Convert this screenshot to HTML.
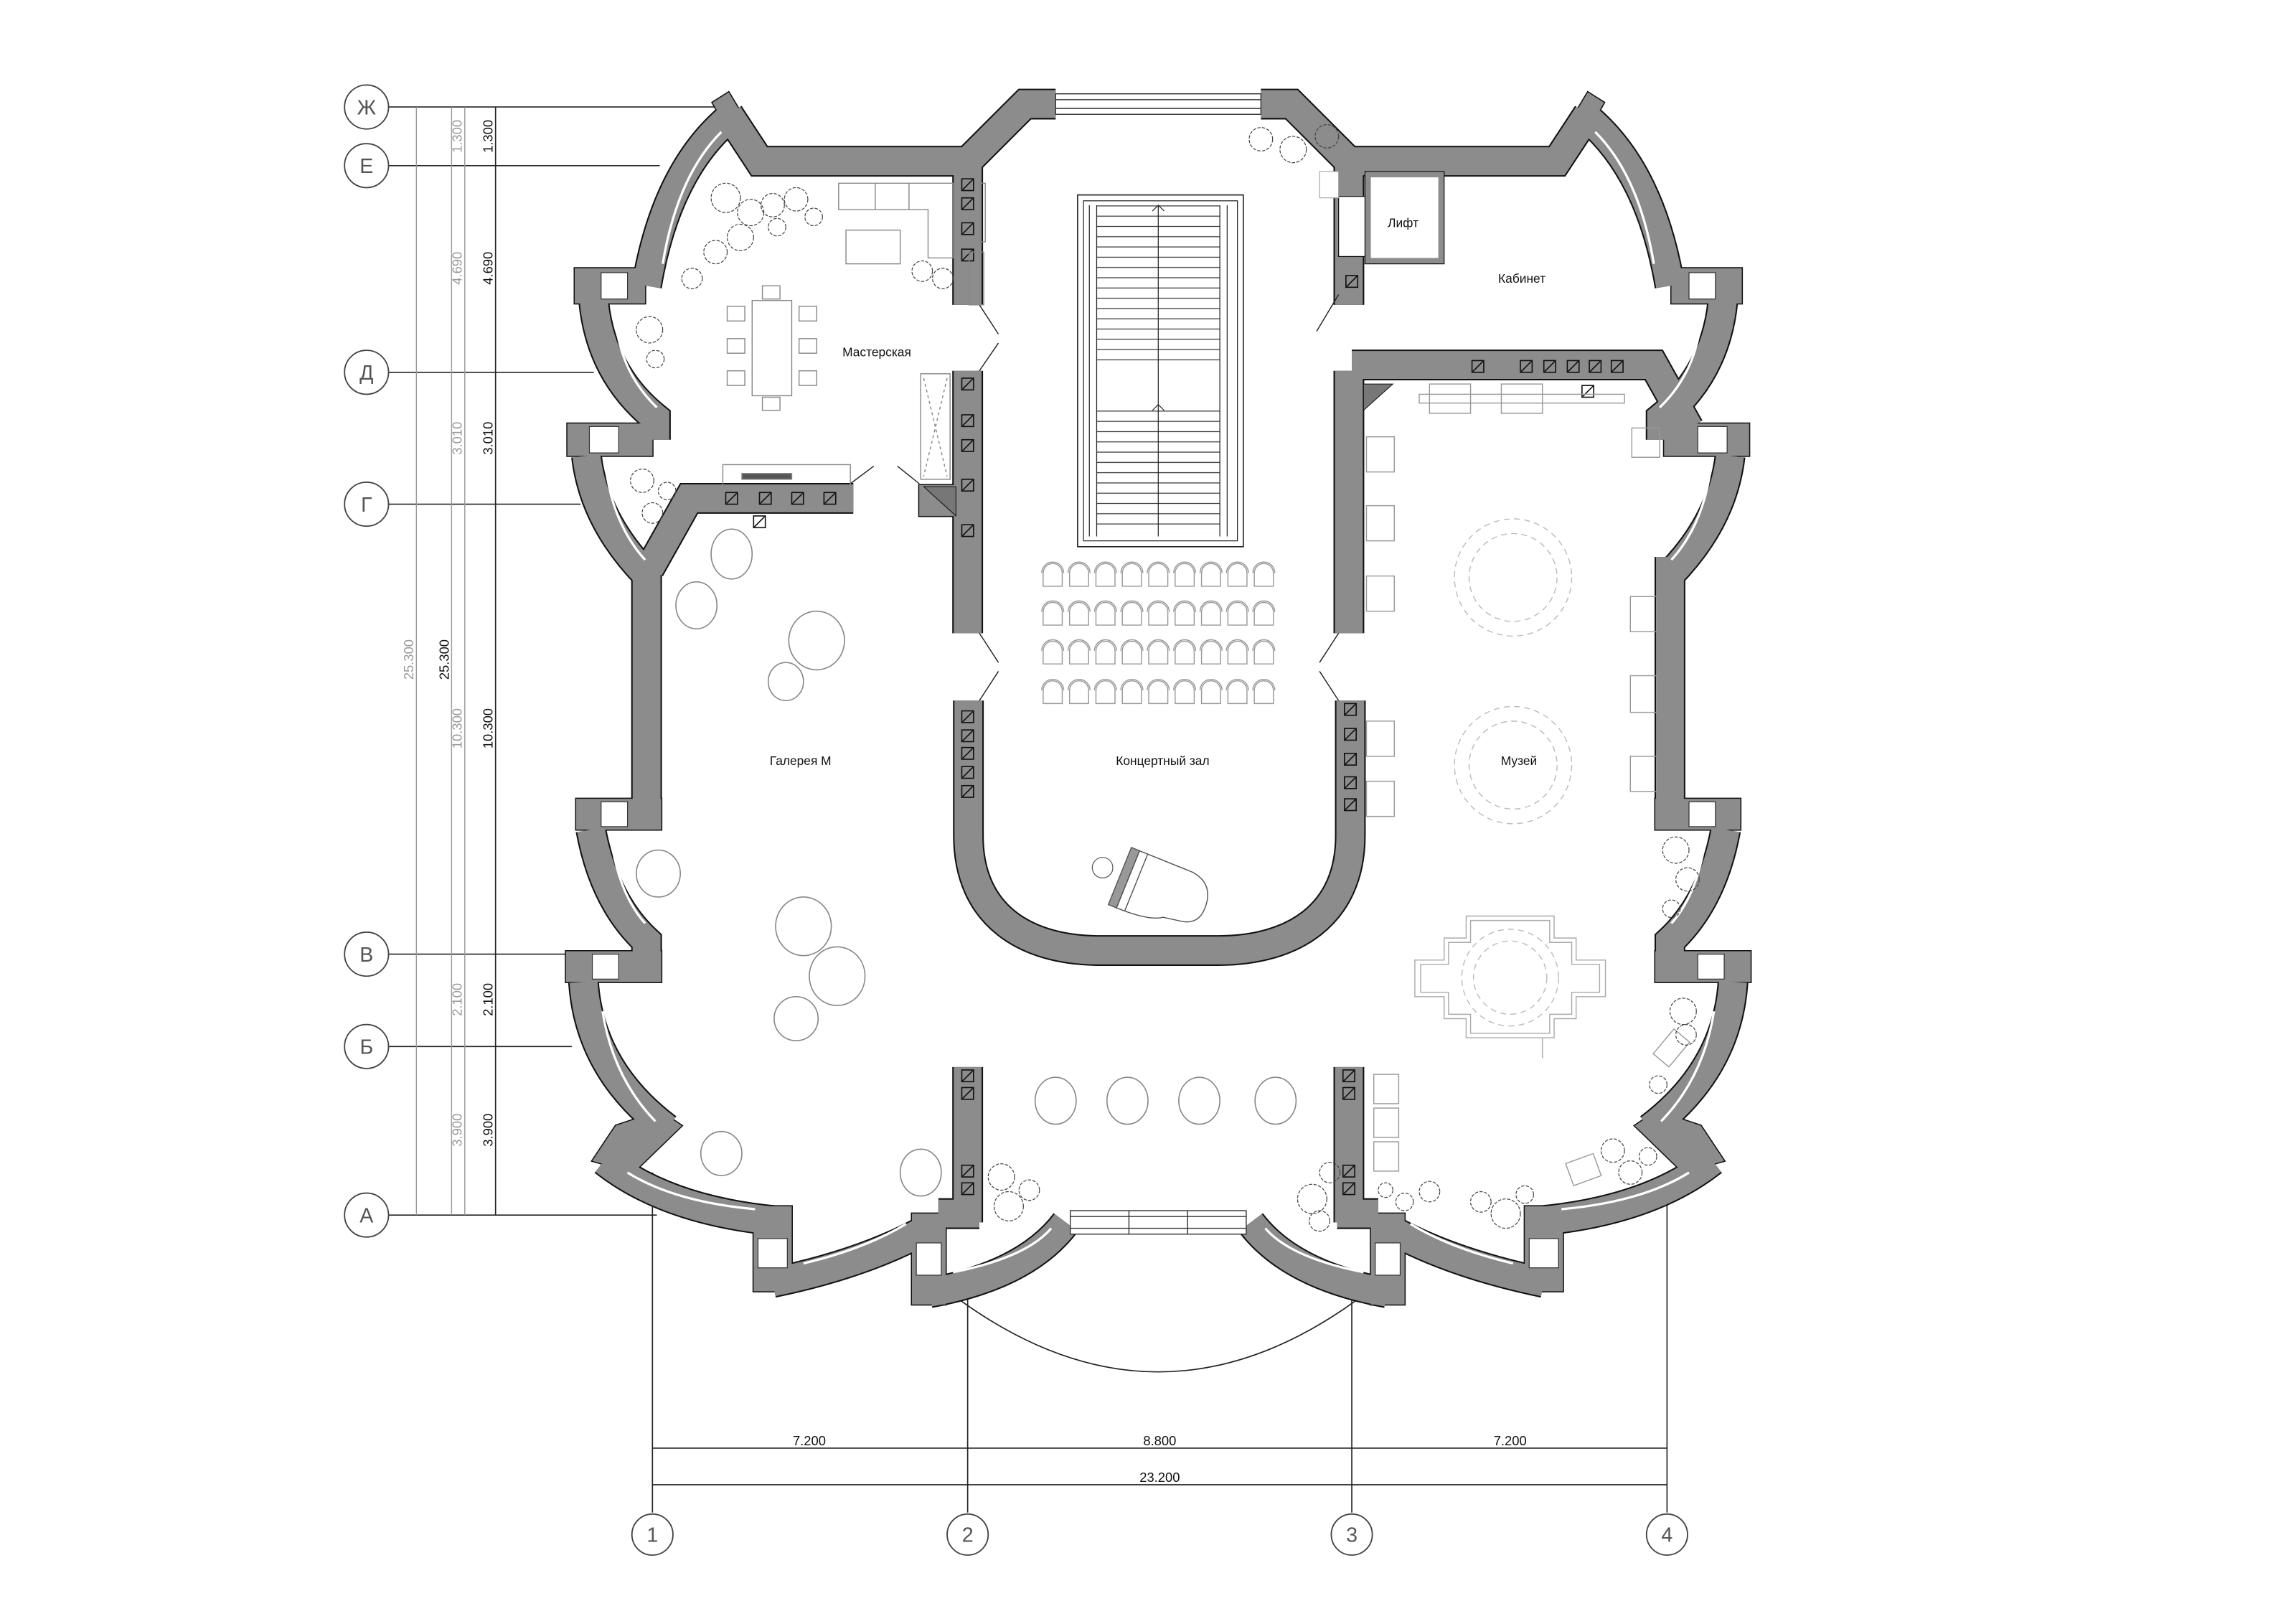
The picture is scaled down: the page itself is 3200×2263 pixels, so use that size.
<!DOCTYPE html>
<html><head><meta charset="utf-8"><style>
html,body{margin:0;padding:0;background:#fff;}
svg{display:block;}
text{font-family:"Liberation Sans","DejaVu Sans",sans-serif;}
</style></head><body>
<svg width="3200" height="2263" viewBox="0 0 1566 1108" preserveAspectRatio="none" xmlns="http://www.w3.org/2000/svg">
<defs>
<pattern id="st" width="10" height="7" patternUnits="userSpaceOnUse"><line x1="0" y1="0.5" x2="10" y2="0.5" stroke="#333" stroke-width="0.6"/></pattern>
<g id="WL" fill="none">
 <path d="M497,78 L518,110 L660,110 L699,71 L720,71"/>
 <path d="M503,76 Q455,112 441,195"/>
 <path d="M405,206 Q410,255 447,285 L447,300"/>
 <path d="M400,311 Q405,355 441,392"/>
 <path d="M441,380 L441,562"/>
 <path d="M403,566 Q412,615 441,642 L441,668"/>
 <path d="M398,670 Q402,730 455,770"/>
 <path d="M412,792 Q455,826 530,833"/>
 <path d="M527,875 Q590,862 633,838"/>
 <path d="M634,882 Q700,870 727,834"/>
 <path d="M660,728 L660,834"/>
 <path d="M640,828 L668,828"/>
 <path d="M660,110 L660,208"/>
 <path d="M660,253 L660,432"/>
</g>
<g id="W" fill="none">
 <use href="#WL"/>
 <use href="#WL" transform="matrix(-1 0 0 1 1580 0)"/>
 <path d="M660.5,478 L660.5,570 C660.5,625 700,648.5 750,648.5 L831,648.5 C881,648.5 921,625 921,570 L921,478"/>
 <path d="M582,340 L470,340 L443,388"/>
 <path d="M922,249 L1128,249 L1152,292"/>
</g>
<g id="PL">
 <polygon points="486,70 497,63 512,88 500,95"/>
 <rect x="392" y="183" width="48" height="24"/>
 <rect x="387" y="289" width="58" height="22"/>
 <rect x="393" y="545" width="58" height="21"/>
 <rect x="386" y="649" width="65" height="21"/>
 <polygon points="420,768 450,758 465,768 432,800 404,792"/>
 <rect x="514" y="823" width="26" height="58"/>
 <rect x="622" y="828" width="23" height="62"/>
</g>
<g id="P">
 <use href="#PL"/>
 <use href="#PL" transform="matrix(-1 0 0 1 1580 0)"/>
 <rect x="627" y="331" width="41" height="21"/>
</g>
<g id="hb"><rect x="0" y="0" width="8" height="8" fill="none" stroke="#111" stroke-width="0.8"/><line x1="0.5" y1="7.5" x2="7.5" y2="0.5" stroke="#111" stroke-width="0.8"/></g>
<g id="seat" fill="none" stroke="#999" stroke-width="0.7"><path d="M-6.5,8 V-1 A6.5,6.5 0 0 1 6.5,-1 V8 Z"/><path d="M-7.5,-1 A7.5,7.5 0 0 1 7.5,-1"/></g>
<g id="row"><use href="#seat" x="718"/><use href="#seat" x="736"/><use href="#seat" x="754"/><use href="#seat" x="772"/><use href="#seat" x="790"/><use href="#seat" x="808"/><use href="#seat" x="826"/><use href="#seat" x="844"/><use href="#seat" x="862"/></g>
</defs>

<g stroke="#222" stroke-width="0.8" fill="none">
 <line x1="265" y1="73" x2="490" y2="73"/>
 <line x1="265" y1="113" x2="450" y2="113"/>
 <line x1="265" y1="254" x2="405" y2="254"/>
 <line x1="265" y1="344" x2="396" y2="344"/>
 <line x1="265" y1="651" x2="388" y2="651"/>
 <line x1="265" y1="714" x2="390" y2="714"/>
 <line x1="265" y1="829" x2="448" y2="829"/>
 <line x1="338" y1="73" x2="338" y2="829"/>
 <line x1="445" y1="800" x2="445" y2="1032"/>
 <line x1="660" y1="880" x2="660" y2="1032"/>
 <line x1="922" y1="880" x2="922" y2="1032"/>
 <line x1="1137" y1="800" x2="1137" y2="1032"/>
 <line x1="445" y1="988" x2="1137" y2="988"/>
 <line x1="445" y1="1013" x2="1137" y2="1013"/>
</g>
<g stroke="#999" stroke-width="0.7">
 <line x1="284" y1="73" x2="284" y2="829"/>
 <line x1="308" y1="73" x2="308" y2="829"/>
 <line x1="317" y1="73" x2="317" y2="829"/>
</g>
<g fill="#fff" stroke="#444" stroke-width="0.9">
 <circle cx="250" cy="73" r="15"/><circle cx="250" cy="113" r="15"/><circle cx="250" cy="254" r="15"/><circle cx="250" cy="344" r="15"/><circle cx="250" cy="651" r="15"/><circle cx="250" cy="714" r="15"/><circle cx="250" cy="829" r="15"/>
 <circle cx="445" cy="1047" r="14"/><circle cx="660" cy="1047" r="14"/><circle cx="922" cy="1047" r="14"/><circle cx="1137" cy="1047" r="14"/>
</g>
<g font-size="14" fill="#555" text-anchor="middle">
 <text x="250" y="78">Ж</text><text x="250" y="118">Е</text><text x="250" y="259">Д</text><text x="250" y="349">Г</text><text x="250" y="656">В</text><text x="250" y="719">Б</text><text x="250" y="834">А</text>
 <text x="445" y="1052">1</text><text x="660" y="1052">2</text><text x="922" y="1052">3</text><text x="1137" y="1052">4</text>
</g>
<g font-size="9" fill="#999" text-anchor="middle">
 <text transform="translate(282,450) rotate(-90)">25.300</text>
 <text transform="translate(315,93) rotate(-90)">1.300</text>
 <text transform="translate(315,183) rotate(-90)">4.690</text>
 <text transform="translate(315,299) rotate(-90)">3.010</text>
 <text transform="translate(315,497) rotate(-90)">10.300</text>
 <text transform="translate(315,682) rotate(-90)">2.100</text>
 <text transform="translate(315,771) rotate(-90)">3.900</text>
</g>
<g font-size="9" fill="#111" text-anchor="middle">
 <text transform="translate(306,450) rotate(-90)">25.300</text>
 <text transform="translate(336,93) rotate(-90)">1.300</text>
 <text transform="translate(336,183) rotate(-90)">4.690</text>
 <text transform="translate(336,299) rotate(-90)">3.010</text>
 <text transform="translate(336,497) rotate(-90)">10.300</text>
 <text transform="translate(336,682) rotate(-90)">2.100</text>
 <text transform="translate(336,771) rotate(-90)">3.900</text>
 <text x="552" y="986">7.200</text><text x="791" y="986">8.800</text><text x="1030" y="986">7.200</text><text x="791" y="1011">23.200</text>
</g>

<path d="M648,882 Q790,990 932,882" fill="none" stroke="#222" stroke-width="0.8"/>

<use href="#W" stroke="#111" stroke-width="21"/>
<use href="#P" fill="#8c8c8c" stroke="#111" stroke-width="1.5"/>
<use href="#W" stroke="#8c8c8c" stroke-width="19"/>
<use href="#P" fill="#8c8c8c"/>

<g stroke="#333" stroke-width="0.7" fill="#fff">
 <rect x="720" y="64" width="140" height="14"/>
 <line x1="720" y1="68" x2="860" y2="68"/><line x1="720" y1="74" x2="860" y2="74"/>
 <rect x="730" y="826" width="120" height="16"/>
 <line x1="730" y1="830" x2="850" y2="830"/><line x1="730" y1="838" x2="850" y2="838"/>
 <line x1="770" y1="826" x2="770" y2="842"/><line x1="810" y1="826" x2="810" y2="842"/>
</g>
<g fill="#fff" stroke="#333" stroke-width="0.6">
 <rect x="410" y="186" width="18" height="18"/><rect x="1152" y="186" width="18" height="18"/>
 <rect x="402" y="291" width="20" height="18"/><rect x="1158" y="291" width="20" height="18"/>
 <rect x="410" y="547" width="18" height="17"/><rect x="1152" y="547" width="18" height="17"/>
 <rect x="404" y="651" width="18" height="17"/><rect x="1158" y="651" width="18" height="17"/>
 <rect x="517" y="845" width="20" height="20"/><rect x="1043" y="845" width="20" height="20"/>
 <rect x="625" y="848" width="17" height="22"/><rect x="938" y="848" width="17" height="22"/>
</g>
<g fill="none" stroke="#fff" stroke-width="1.6">
 <path d="M492,90 Q462,120 452,180"/><path d="M1088,90 Q1118,120 1128,180"/>
 <path d="M420,220 Q424,255 448,278"/><path d="M1160,220 Q1156,255 1132,278"/>
 <path d="M414,325 Q420,360 440,382"/><path d="M1166,325 Q1160,360 1140,382"/>
 <path d="M418,580 Q424,612 440,630"/><path d="M1162,580 Q1156,612 1140,630"/>
 <path d="M411,690 Q418,735 447,765"/><path d="M1169,690 Q1162,735 1133,765"/>
 <path d="M428,800 Q460,820 515,825"/><path d="M1152,800 Q1120,820 1065,825"/>
 <path d="M548,862 Q590,852 618,835"/><path d="M1032,862 Q990,852 962,835"/>
 <path d="M650,868 Q700,858 717,838"/><path d="M930,868 Q880,858 863,838"/>
</g>

<!-- Lift -->
<rect x="933" y="119" width="50" height="59" fill="#fff" stroke="#8c8c8c" stroke-width="4"/>
<rect x="931" y="117" width="54" height="63" fill="none" stroke="#111" stroke-width="0.6"/>
<rect x="913" y="134" width="18" height="41" fill="#fff" stroke="#111" stroke-width="0.6"/>
<rect x="900" y="117" width="13" height="18" fill="#fff" stroke="#999" stroke-width="0.5"/>

<rect x="735" y="133" width="113" height="240" fill="#fff" stroke="#222" stroke-width="0.8"/>
<rect x="739" y="137" width="105" height="232" fill="none" stroke="#222" stroke-width="0.6"/>
<rect x="748" y="140" width="84" height="110" fill="url(#st)"/>
<rect x="748" y="276" width="84" height="88" fill="url(#st)"/>
<g stroke="#222" stroke-width="0.6">
 <line x1="748" y1="140" x2="748" y2="366"/><line x1="832" y1="140" x2="832" y2="366"/>
 <line x1="743" y1="140" x2="743" y2="366"/><line x1="837" y1="140" x2="837" y2="366"/>
 <line x1="790" y1="140" x2="790" y2="366"/>
 <path d="M786,144 L790,140 L794,144" fill="none"/><path d="M786,280 L790,276 L794,280" fill="none"/>
</g>
<use href="#row" y="392"/><use href="#row" y="418.5"/><use href="#row" y="445"/><use href="#row" y="472"/>

<g transform="translate(792,608) rotate(22)" fill="none" stroke="#555" stroke-width="0.7">
 <rect x="-30" y="-20" width="6" height="42" fill="#999"/>
 <path d="M-24,-20 L15,-20 Q32,-18 32,0 Q32,12 20,14 L8,16 Q0,22 -24,22 Z"/>
 <line x1="-18" y1="-20" x2="-18" y2="22"/>
</g>
<circle cx="752" cy="592" r="7" fill="none" stroke="#555" stroke-width="0.6"/>

<g stroke="#222" stroke-width="0.7">
 <line x1="668" y1="208" x2="681" y2="228"/><line x1="668" y1="253" x2="681" y2="234"/>
 <line x1="913" y1="201" x2="898" y2="226"/>
 <line x1="580" y1="330" x2="596" y2="318"/><line x1="627" y1="330" x2="612" y2="318"/>
 <line x1="668" y1="432" x2="681" y2="452"/><line x1="668" y1="478" x2="681" y2="458"/>
 <line x1="913" y1="432" x2="900" y2="452"/><line x1="913" y1="478" x2="900" y2="458"/>
</g>

<use href="#hb" x="656" y="122"/><use href="#hb" x="656" y="135"/><use href="#hb" x="656" y="152"/><use href="#hb" x="656" y="170"/>
<use href="#hb" x="656" y="258"/><use href="#hb" x="656" y="283"/><use href="#hb" x="656" y="300"/><use href="#hb" x="656" y="327"/><use href="#hb" x="656" y="358"/>
<use href="#hb" x="495" y="336"/><use href="#hb" x="518" y="336"/><use href="#hb" x="540" y="336"/><use href="#hb" x="562" y="336"/><use href="#hb" x="514" y="352"/>
<use href="#hb" x="918" y="188"/>
<use href="#hb" x="1004" y="246"/><use href="#hb" x="1037" y="246"/><use href="#hb" x="1053" y="246"/><use href="#hb" x="1069" y="246"/><use href="#hb" x="1084" y="246"/><use href="#hb" x="1099" y="246"/><use href="#hb" x="1079" y="263"/>
<use href="#hb" x="656" y="485"/><use href="#hb" x="656" y="498"/><use href="#hb" x="656" y="510"/><use href="#hb" x="656" y="523"/><use href="#hb" x="656" y="536"/>
<use href="#hb" x="917" y="480"/><use href="#hb" x="917" y="497"/><use href="#hb" x="917" y="514"/><use href="#hb" x="917" y="530"/><use href="#hb" x="917" y="545"/>
<use href="#hb" x="656" y="730"/><use href="#hb" x="656" y="742"/><use href="#hb" x="656" y="795"/><use href="#hb" x="656" y="807"/>
<use href="#hb" x="916" y="730"/><use href="#hb" x="916" y="742"/><use href="#hb" x="916" y="795"/><use href="#hb" x="916" y="807"/>

<polygon points="630,332 652,332 652,352" fill="#777" stroke="#111" stroke-width="0.5"/>
<polygon points="930,262 950,262 930,280" fill="#777" stroke="#111" stroke-width="0.5"/>

<g fill="none" stroke="#888" stroke-width="0.7">
 <rect x="513" y="205" width="27" height="65"/>
 <rect x="520" y="195" width="12" height="9"/><rect x="520" y="271" width="12" height="9"/>
 <rect x="496" y="209" width="12" height="10"/><rect x="496" y="231" width="12" height="10"/><rect x="496" y="253" width="12" height="10"/>
 <rect x="545" y="209" width="12" height="10"/><rect x="545" y="231" width="12" height="10"/><rect x="545" y="253" width="12" height="10"/>
 <path d="M572,125 L650,125 L650,176 L633,176 L633,143 L572,143 Z"/>
 <line x1="597" y1="125" x2="597" y2="143"/><line x1="620" y1="125" x2="620" y2="143"/>
 <rect x="577" y="157" width="37" height="23"/>
 <rect x="493" y="317" width="87" height="14"/>
 <rect x="506" y="323" width="34" height="4" fill="#555"/>
 <rect x="628" y="255" width="20" height="72"/>
 <path d="M630,258 L646,325 M646,258 L630,325" stroke-dasharray="2 2"/>
 <rect x="668" y="125" width="4" height="40"/>
 <rect x="661" y="172" width="10" height="36"/>
</g>

<g fill="none" stroke="#888" stroke-width="0.8">
 <ellipse cx="499" cy="378" rx="14" ry="17"/><ellipse cx="475" cy="413" rx="14" ry="16"/>
 <ellipse cx="557" cy="437" rx="19" ry="20"/><ellipse cx="536" cy="465" rx="12" ry="13"/>
 <ellipse cx="449" cy="596" rx="15" ry="16"/><ellipse cx="548" cy="632" rx="19" ry="20"/>
 <ellipse cx="571" cy="666" rx="19" ry="20"/><ellipse cx="543" cy="695" rx="15" ry="15"/>
 <ellipse cx="492" cy="787" rx="14" ry="15"/><ellipse cx="628" cy="800" rx="14" ry="16"/>
 <ellipse cx="720" cy="751" rx="14" ry="16"/><ellipse cx="769" cy="751" rx="14" ry="16"/>
 <ellipse cx="818" cy="751" rx="14" ry="16"/><ellipse cx="870" cy="751" rx="14" ry="16"/>
</g>

<g fill="none" stroke="#999" stroke-width="0.7">
 <rect x="968" y="269" width="140" height="6"/>
 <rect x="975" y="262" width="28" height="20"/><rect x="1024" y="262" width="28" height="20"/>
 <rect x="1113" y="292" width="19" height="20"/>
 <rect x="932" y="298" width="19" height="24"/><rect x="932" y="345" width="19" height="24"/><rect x="932" y="393" width="19" height="24"/>
 <rect x="932" y="492" width="19" height="24"/><rect x="932" y="533" width="19" height="24"/>
 <rect x="1112" y="407" width="18" height="24"/><rect x="1112" y="461" width="18" height="25"/><rect x="1112" y="516" width="18" height="24"/>
 <rect x="937" y="733" width="17" height="20"/><rect x="937" y="756" width="17" height="20"/><rect x="937" y="779" width="17" height="20"/>
 <rect x="1129" y="708" width="22" height="14" transform="rotate(-50 1140 715)"/>
 <rect x="1070" y="790" width="20" height="16" transform="rotate(-20 1080 798)"/>
</g>
<g fill="none" stroke="#bbb" stroke-width="0.7" stroke-dasharray="4 3">
 <circle cx="1032" cy="394" r="40"/><circle cx="1032" cy="394" r="30"/>
 <circle cx="1032" cy="522" r="40"/><circle cx="1032" cy="522" r="30"/>
 <circle cx="1030" cy="667" r="33"/><circle cx="1030" cy="667" r="25"/>
</g>
<g fill="none" stroke="#aaa" stroke-width="0.7">
 <polygon points="965,655 985,655 985,640 1000,640 1000,625 1060,625 1060,640 1075,640 1075,655 1095,655 1095,680 1075,680 1075,695 1060,695 1060,708 1000,708 1000,695 985,695 985,680 965,680"/>
 <polygon points="969,658 988,658 988,643 1003,643 1003,628 1057,628 1057,643 1072,643 1072,658 1091,658 1091,677 1072,677 1072,692 1057,692 1057,705 1003,705 1003,692 988,692 988,677 969,677"/>
 <line x1="1052" y1="708" x2="1052" y2="722"/>
</g>

<g fill="none" stroke="#444" stroke-width="0.6" stroke-dasharray="2.2 1">
 <circle cx="495" cy="135" r="10"/><circle cx="512" cy="145" r="9"/><circle cx="527" cy="140" r="8"/><circle cx="543" cy="136" r="8"/><circle cx="505" cy="162" r="9"/><circle cx="488" cy="172" r="8"/><circle cx="472" cy="190" r="7"/><circle cx="530" cy="155" r="6"/><circle cx="555" cy="148" r="6"/>
 <circle cx="443" cy="225" r="9"/><circle cx="447" cy="245" r="6"/>
 <circle cx="438" cy="328" r="8"/><circle cx="455" cy="335" r="6"/><circle cx="445" cy="350" r="7"/>
 <circle cx="629" cy="185" r="7"/><circle cx="643" cy="190" r="7"/>
 <circle cx="860" cy="95" r="8"/><circle cx="882" cy="102" r="9"/><circle cx="905" cy="93" r="8"/>
 <circle cx="683" cy="803" r="9"/><circle cx="688" cy="823" r="10"/><circle cx="702" cy="812" r="7"/>
 <circle cx="895" cy="818" r="10"/><circle cx="907" cy="800" r="7"/><circle cx="900" cy="833" r="7"/>
 <circle cx="1143" cy="580" r="9"/><circle cx="1151" cy="600" r="8"/><circle cx="1140" cy="620" r="6"/>
 <circle cx="1148" cy="690" r="9"/><circle cx="1150" cy="706" r="7"/><circle cx="1131" cy="740" r="6"/>
 <circle cx="1100" cy="785" r="8"/><circle cx="1112" cy="800" r="8"/><circle cx="1124" cy="789" r="6"/>
 <circle cx="1027" cy="828" r="10"/><circle cx="1010" cy="820" r="7"/><circle cx="1040" cy="815" r="6"/>
 <circle cx="975" cy="813" r="7"/><circle cx="958" cy="820" r="6"/><circle cx="945" cy="812" r="5"/>
</g>

<g font-size="8.5" fill="#111" text-anchor="middle">
 <text x="598" y="243">Мастерская</text>
 <text x="546" y="522">Галерея М</text>
 <text x="793" y="522">Концертный зал</text>
 <text x="1036" y="522">Музей</text>
 <text x="957" y="155">Лифт</text>
 <text x="1038" y="193">Кабинет</text>
</g>
</svg>
</body></html>
